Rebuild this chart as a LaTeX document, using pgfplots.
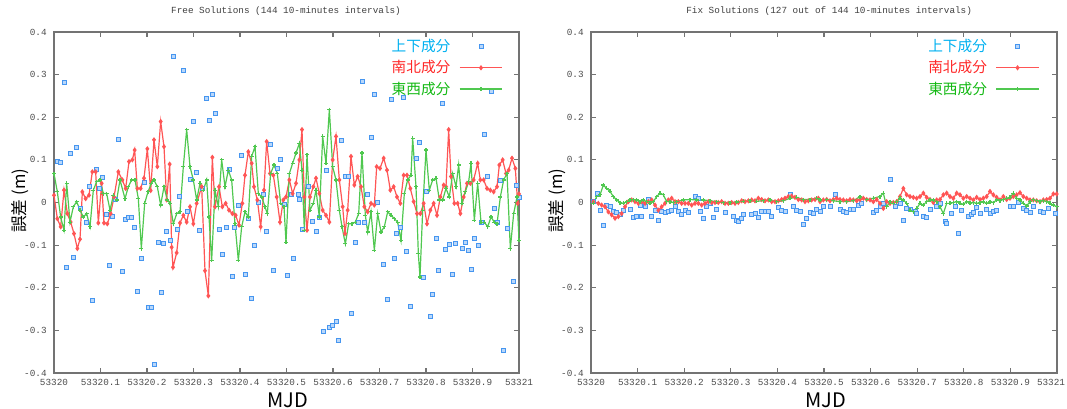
\documentclass[border=0pt]{standalone}
\usepackage{fontspec}
\usepackage{pgfplots}
\pgfplotsset{compat=1.18}
\setmainfont{Liberation Sans}
\newfontfamily\cjk{Noto Sans CJK JP}
\newfontfamily\mono{Liberation Mono}

\definecolor{ublue}{RGB}{0,176,240}
\definecolor{nred}{RGB}{255,40,40}
\definecolor{egreen}{RGB}{20,185,20}
\definecolor{sqblue}{RGB}{70,150,240}
\definecolor{sqfill}{RGB}{185,215,250}
\definecolor{lred}{RGB}{255,85,85}
\definecolor{lgreen}{RGB}{80,200,80}
\definecolor{frame}{RGB}{115,115,115}

% x is read in 1/1395 (left) and 1/1398 (right) of a day from 53320
\pgfplotsset{
  gp/.style={
    scale only axis,
    height=255.75pt,
    ymin=-0.4, ymax=0.4,
    ytick={-0.4,-0.3,-0.2,-0.1,0,0.1,0.2,0.3,0.4},
    yticklabels={-0.4,-0.3,-0.2,-0.1,0,0.1,0.2,0.3,0.4},
    tick align=inside,
    major tick length=3.5pt,
    every tick/.style={draw=frame, line width=0.9pt},
    axis line style={draw=frame, line width=1.3pt},
    ticklabel style={font=\mono\fontsize{7}{8}\selectfont, text=black!70},
    yticklabel style={xshift=-2pt},
    xticklabel style={yshift=-1.5pt},
    title style={font=\mono\fontsize{7}{8}\selectfont, text=black!75, anchor=center},
    xlabel style={at={(axis description cs:0.503,-0.079)}, anchor=center, font=\cjk\fontsize{15}{17}\selectfont},
    ylabel style={at={(axis description cs:-0.073,0.505)}, anchor=center, font=\cjk\fontsize{12.5}{14}\selectfont},
    xlabel={MJD},
    ylabel={誤差 (m)},
    legend style={draw=none, fill=none, inner sep=0pt, anchor=north east,
      font=\cjk\fontsize{11}{13}\selectfont, row sep=2.2pt,
      nodes={inner sep=1.5pt}, column sep=5pt},
    legend plot pos=right,
    legend cell align=right,
    legend image code/.code={\draw[mark repeat=2,mark phase=2,#1] plot coordinates {(0pt,0pt) (16pt,0pt) (32pt,0pt)};},
  },
  upd/.style={only marks, mark=square*, mark size=1.5pt, mark options={draw=sqblue, fill=sqfill, line width=0.7pt}},
  nsd/.style={lred, line width=0.9pt, mark=diamond*, mark size=1.3pt, mark options={fill=lred}},
  ewd/.style={lgreen, line width=0.9pt, mark=+, mark size=1.5pt},
}

\begin{document}
\begin{tikzpicture}
\path[use as bounding box] (0,0) rectangle (800.25pt,306pt);

\begin{axis}[gp,
  at={(40.5pt,26.25pt)}, anchor=south west,
  width=348.75pt,
  xmin=0, xmax=1395,
  xtick={0,139.5,279,418.5,558,697.5,837,976.5,1116,1255.5,1395},
  xticklabels={53320,53320.1,53320.2,53320.3,53320.4,53320.5,53320.6,53320.7,53320.8,53320.9,53321},
  title={Free Solutions (144 10-minutes intervals)},
  title style={at={(axis description cs:0.499,1.038)}},
  legend style={at={(axis description cs:0.966,0.985)}},
]
\addplot[upd] coordinates {
(9,0.096) (18,0.095) (30,0.282) (36,-0.152) (48,0.114) (57,-0.129) (66,0.129) (78,-0.015)
(96,-0.048) (105,0.037) (114,-0.230) (126,0.077) (135,0.032) (144,0.058) (156,-0.029) (165,-0.147)
(174,-0.032) (183,0.006) (192,0.147) (204,-0.162) (213,-0.039) (222,-0.034) (231,-0.034) (240,-0.058)
(249,-0.209) (261,-0.131) (270,0.046) (282,-0.246) (291,-0.246) (300,-0.379) (312,-0.093) (321,-0.211)
(327,-0.096) (336,-0.067) (348,-0.088) (357,0.343) (369,-0.063) (375,0.015) (387,0.310) (399,-0.022)
(408,0.055) (417,0.190) (426,0.070) (435,-0.065) (444,0.032) (456,0.244) (465,0.192) (474,0.254)
(483,0.209) (495,-0.063) (504,-0.121) (516,-0.058) (525,0.077) (534,-0.173) (540,-0.058) (552,-0.008)
(561,0.110) (573,-0.169) (582,-0.037) (591,-0.225) (600,-0.100) (612,0.001) (627,0.018) (636,-0.067)
(648,0.136) (657,-0.159) (669,0.079) (678,0.100) (690,-0.004) (699,-0.171) (711,0.018) (717,-0.131)
(732,0.018) (735,0.008) (744,-0.063) (762,0.037) (774,-0.044) (786,-0.067) (795,-0.034) (807,-0.303)
(816,0.074) (825,-0.294) (834,-0.289) (846,-0.280) (852,-0.324) (861,0.145) (873,0.060) (882,0.060)
(891,-0.261) (903,-0.093) (912,-0.046) (924,0.284) (930,-0.046) (939,0.020) (951,0.152) (960,0.254)
(969,0.000) (987,-0.145) (999,-0.228) (1011,0.242) (1020,-0.131) (1026,-0.072) (1038,-0.058) (1047,0.246)
(1056,-0.114) (1068,-0.244) (1086,0.103) (1095,0.142) (1107,-0.176) (1116,0.025) (1128,-0.268) (1134,-0.216)
(1146,-0.084) (1152,-0.159) (1164,0.232) (1173,-0.110) (1185,-0.098) (1194,-0.169) (1203,-0.096) (1224,-0.107)
(1233,-0.093) (1242,-0.112) (1251,-0.157) (1260,-0.084) (1272,-0.100) (1281,-0.046) (1290,0.159) (1299,0.060)
(1311,0.260) (1320,-0.013) (1329,-0.048) (1338,0.051) (1347,-0.346) (1359,-0.060) (1377,-0.185) (1386,0.041)
(1395,0.011)
};
\addlegendentry{\textcolor{ublue}{上下成分}}
\addplot[nsd] coordinates {
(0,0.017) (10,-0.038) (20,-0.057) (30,0.029) (40,-0.026) (50,-0.046) (60,-0.073) (70,-0.108)
(78,-0.086) (85,0.025) (95,0.009) (105,0.017) (115,0.072) (125,0.072) (133,-0.048) (143,0.045)
(150,-0.048) (160,-0.050) (170,-0.026) (180,0.013) (193,0.072) (205,0.053) (215,0.033) (225,0.096)
(235,0.100) (242,0.123) (250,0.033) (260,0.033) (270,0.057) (280,0.126) (290,0.028) (300,0.147)
(310,0.084) (320,0.190) (330,0.131) (338,0.006) (347,0.090) (353,-0.105) (357,-0.152) (368,-0.118)
(378,-0.048) (388,-0.030) (398,-0.046) (408,-0.010) (418,-0.050) (428,-0.002) (443,0.037) (453,-0.160)
(463,-0.219) (475,0.106) (483,-0.010) (495,0.037) (505,-0.010) (515,-0.002) (525,-0.018) (535,-0.026)
(545,-0.030) (555,-0.053) (565,-0.002) (573,0.064) (583,0.119) (593,0.092) (600,0.037) (610,0.006)
(620,-0.057) (630,0.029) (638,0.143) (648,0.068) (658,0.064) (668,0.013) (678,-0.046) (688,0.006)
(696,0.013) (706,0.053) (716,0.021) (726,0.045) (736,0.100) (744,0.171) (751,0.013) (759,-0.065)
(768,0.013) (778,0.037) (786,0.057) (796,0.021) (806,-0.018) (816,-0.030) (826,-0.046) (836,0.100)
(846,0.155) (856,0.053) (866,-0.010) (873,-0.073) (881,-0.018) (891,0.108) (901,0.041) (911,0.061)
(921,0.037) (931,-0.010) (941,-0.022) (951,-0.002) (961,-0.006) (968,0.084) (978,0.080) (989,0.104)
(999,0.076) (1009,0.029) (1019,0.037) (1029,0.013) (1039,-0.002) (1049,0.064) (1059,0.064) (1069,0.033)
(1079,0.002) (1089,-0.026) (1099,-0.026) (1109,-0.002) (1119,-0.050) (1129,-0.018) (1139,-0.002) (1149,-0.030)
(1159,0.013) (1169,0.041) (1176,0.037) (1184,0.171) (1191,0.061) (1201,-0.002) (1211,-0.002) (1219,-0.026)
(1229,0.013) (1239,0.045) (1249,0.045) (1259,0.053) (1271,0.092) (1279,0.053) (1289,0.053) (1299,0.033)
(1309,0.029) (1319,0.025) (1329,0.037) (1336,0.088) (1346,0.100) (1356,0.068) (1364,0.076) (1374,0.104)
(1384,0.080) (1391,-0.002) (1395,0.020)
};
\addlegendentry{\textcolor{nred}{南北成分}}
\addplot[ewd] coordinates {
(0,0.068) (10,0.025) (20,-0.034) (30,-0.065) (38,0.045) (48,-0.046) (58,-0.010) (68,0.002)
(78,-0.018) (88,-0.034) (98,-0.026) (108,-0.057) (118,0.029) (128,0.049) (138,0.053) (148,0.021)
(158,0.021) (168,-0.018) (178,0.017) (188,0.006) (198,0.053) (213,0.009) (223,0.037) (233,0.053)
(243,0.053) (253,0.009) (262,-0.108) (272,-0.002) (282,0.025) (292,0.045) (300,0.053) (310,0.037)
(320,-0.006) (330,0.037) (340,0.006) (348,-0.002) (358,-0.050) (368,-0.026) (378,-0.022) (388,0.084)
(398,0.171) (408,0.084) (418,0.053) (428,0.006) (438,0.045) (448,0.029) (458,0.053) (465,-0.034)
(473,-0.136) (483,0.029) (493,-0.010) (503,0.100) (513,0.037) (523,0.076) (533,0.053) (543,-0.050)
(553,-0.136) (563,-0.057) (573,-0.022) (583,-0.034) (593,0.108) (603,0.131) (613,0.021) (623,0.013)
(633,-0.010) (640,-0.026) (650,0.068) (660,0.088) (670,0.068) (680,-0.002) (690,-0.010) (696,-0.093)
(706,0.068) (716,0.092) (726,0.116) (736,0.139) (744,0.076) (751,-0.065) (759,0.112) (768,-0.018)
(778,-0.002) (786,0.029) (796,-0.034) (806,0.155) (816,0.092) (826,0.218) (836,0.084) (846,0.053)
(856,-0.018) (864,-0.057) (874,-0.097) (884,-0.050) (894,-0.050) (904,-0.046) (914,-0.026) (924,0.116)
(934,-0.030) (941,-0.069) (951,-0.022) (961,-0.112) (971,-0.026) (981,-0.069) (991,-0.057) (1001,-0.022)
(1011,-0.030) (1021,-0.038) (1031,-0.046) (1041,-0.089) (1051,0.021) (1061,0.053) (1071,0.064) (1076,0.151)
(1086,0.037) (1093,-0.120) (1098,-0.175) (1106,-0.018) (1116,0.123) (1126,0.029) (1136,0.053) (1146,0.057)
(1156,0.006) (1166,0.006) (1176,0.033) (1186,0.013) (1196,0.068) (1206,0.037) (1214,0.088) (1224,-0.002)
(1234,0.025) (1244,0.049) (1251,0.092) (1261,-0.042) (1271,0.045) (1281,-0.046) (1291,-0.046) (1301,-0.057)
(1311,-0.034) (1321,-0.046) (1329,-0.050) (1339,0.013) (1349,0.053) (1359,0.068) (1369,-0.108) (1379,-0.026)
(1389,0.013) (1395,-0.089)
};
\addlegendentry{\textcolor{egreen}{東西成分}}
\end{axis}

\begin{axis}[gp,
  at={(443.25pt,26.25pt)}, anchor=south west,
  width=349.5pt,
  xmin=0, xmax=1398,
  xtick={0,139.8,279.6,419.4,559.2,699,838.8,978.6,1118.4,1258.2,1398},
  xticklabels={53320,53320.1,53320.2,53320.3,53320.4,53320.5,53320.6,53320.7,53320.8,53320.9,\hspace*{-9pt}53321},
  title={Fix Solutions (127 out of 144 10-minutes intervals)},
  title style={at={(axis description cs:0.511,1.038)}},
  legend style={at={(axis description cs:0.963,0.985)}},
]
\addplot[upd] coordinates {
(7,0.002) (19,0.022) (29,-0.018) (37,-0.055) (47,-0.006) (57,-0.010) (67,-0.022) (77,-0.024)
(87,-0.027) (97,-0.018) (117,-0.016) (127,-0.035) (137,-0.033) (147,-0.006) (152,-0.032) (162,-0.010)
(172,0.007) (182,-0.032) (192,-0.018) (202,-0.041) (212,-0.022) (222,-0.024) (232,-0.022) (242,-0.018)
(252,-0.010) (262,-0.022) (272,-0.029) (282,-0.018) (292,-0.024) (312,0.014) (322,0.010) (327,-0.022)
(337,-0.037) (347,-0.010) (357,-0.002) (367,-0.035) (377,-0.016) (402,-0.024) (427,-0.032) (437,-0.041)
(442,-0.045) (452,-0.037) (457,-0.029) (482,-0.029) (492,-0.026) (502,-0.035) (512,-0.022) (522,-0.022)
(532,-0.022) (542,-0.033) (562,-0.011) (572,-0.018) (582,-0.022) (597,0.018) (607,-0.010) (617,-0.018)
(627,-0.022) (637,-0.051) (647,-0.037) (657,-0.024) (667,-0.026) (677,-0.016) (687,-0.022) (697,-0.010)
(717,-0.010) (732,0.018) (747,-0.016) (757,-0.022) (767,-0.024) (777,-0.016) (787,-0.016) (802,-0.006)
(812,-0.002) (847,-0.024) (857,-0.018) (867,-0.010) (877,-0.002) (897,0.055) (912,-0.010) (927,-0.002)
(937,-0.043) (947,-0.014) (957,-0.016) (972,-0.022) (977,-0.026) (997,-0.033) (1007,-0.035) (1017,-0.016)
(1037,-0.010) (1047,-0.002) (1062,-0.045) (1067,-0.049) (1082,-0.026) (1092,-0.010) (1102,-0.073) (1112,-0.019)
(1132,-0.032) (1142,-0.027) (1147,-0.024) (1157,-0.011) (1167,-0.026) (1187,-0.016) (1197,-0.026) (1207,-0.022)
(1217,-0.018) (1257,-0.010) (1267,-0.010) (1282,0.000) (1297,-0.014) (1307,-0.018) (1317,-0.024) (1327,-0.010)
(1347,-0.022) (1357,-0.024) (1372,-0.014) (1392,-0.026)
};
\addlegendentry{\textcolor{ublue}{上下成分}}
\addplot[nsd] coordinates {
(7,0.002) (22,-0.002) (32,-0.006) (42,-0.010) (52,-0.022) (62,-0.029) (72,-0.037) (82,-0.033)
(92,-0.026) (102,-0.010) (112,0.002) (122,0.006) (132,0.002) (142,-0.002) (152,0.002) (162,-0.002)
(172,0.002) (182,0.006) (192,-0.006) (202,-0.018) (212,-0.010) (222,-0.002) (232,0.006) (242,0.010)
(252,0.002) (262,0.002) (272,-0.002) (282,-0.002) (292,-0.002) (302,-0.006) (312,-0.002) (322,-0.002)
(332,-0.006) (342,-0.002) (352,0.002) (362,0.000) (372,0.000) (382,0.000) (392,0.002) (402,-0.002)
(412,-0.002) (422,0.000) (432,-0.002) (442,0.000) (452,0.004) (462,0.002) (472,0.004) (482,0.006)
(492,0.004) (502,0.010) (512,0.007) (522,0.004) (532,0.006) (542,0.002) (552,0.002) (562,0.004)
(572,0.007) (582,0.010) (592,0.014) (602,0.015) (612,0.012) (622,0.007) (632,0.006) (642,0.002)
(652,0.004) (662,0.006) (672,0.007) (682,0.010) (687,0.002) (697,0.006) (707,0.007) (717,0.004)
(727,0.007) (737,0.010) (747,0.007) (757,0.006) (767,0.004) (777,0.007) (787,0.006) (797,0.004)
(807,0.007) (817,0.010) (827,0.007) (837,0.006) (847,0.002) (857,0.007) (867,-0.002) (877,-0.014)
(887,0.002) (897,-0.002) (907,0.000) (917,0.002) (927,0.014) (937,0.033) (947,0.018) (957,0.014)
(967,0.012) (977,0.010) (987,0.014) (997,0.022) (1007,0.012) (1017,0.007) (1027,0.000) (1037,0.006)
(1047,0.007) (1057,0.018) (1067,0.022) (1077,0.014) (1087,0.010) (1097,0.022) (1107,0.018) (1117,0.010)
(1127,0.014) (1137,0.010) (1147,0.006) (1157,0.012) (1167,0.007) (1177,0.010) (1187,0.014) (1197,0.026)
(1207,0.018) (1217,0.012) (1227,0.006) (1237,0.014) (1247,0.007) (1257,0.010) (1267,0.014) (1277,0.018)
(1287,0.023) (1297,0.014) (1307,0.010) (1317,0.006) (1327,0.006) (1337,0.004) (1347,0.002) (1357,0.006)
(1367,0.007) (1377,0.010) (1387,0.020) (1397,0.020)
};
\addlegendentry{\textcolor{nred}{南北成分}}
\addplot[ewd] coordinates {
(7,-0.002) (17,0.014) (27,0.018) (37,0.041) (47,0.033) (57,0.026) (67,0.014) (77,0.006)
(87,0.000) (97,-0.002) (107,0.002) (117,0.006) (127,0.007) (137,0.006) (147,0.002) (157,0.006)
(167,0.002) (177,-0.002) (187,0.002) (197,0.014) (207,0.022) (217,0.018) (227,0.002) (237,0.002)
(247,0.000) (257,0.002) (277,0.006) (297,0.007) (317,0.006) (337,0.006) (357,0.004) (377,0.002)
(397,0.000) (417,0.000) (437,0.001) (457,0.003) (477,0.004) (497,0.003) (517,0.004) (537,0.006)
(557,0.002) (577,0.004) (597,0.010) (617,0.012) (637,0.007) (657,0.007) (677,0.010) (687,0.006)
(707,0.007) (727,0.004) (747,0.002) (767,0.002) (787,0.004) (807,0.014) (827,0.007) (847,0.010)
(867,0.014) (877,0.022) (887,-0.010) (897,0.002) (907,-0.002) (917,0.002) (927,0.010) (937,0.006)
(947,-0.002) (957,-0.018) (967,-0.022) (977,-0.014) (987,-0.002) (997,-0.006) (1007,0.002) (1017,0.007)
(1027,0.006) (1037,0.002) (1047,-0.010) (1057,-0.026) (1067,-0.002) (1077,-0.002) (1087,0.000) (1097,0.002)
(1107,-0.002) (1117,-0.004) (1127,0.002) (1137,-0.002) (1147,0.000) (1157,-0.002) (1167,0.000) (1177,0.001)
(1187,-0.002) (1197,0.002) (1207,0.000) (1217,0.006) (1227,0.004) (1237,0.007) (1247,0.010) (1257,0.012)
(1267,0.022) (1277,0.010) (1287,0.006) (1297,-0.002) (1307,-0.008) (1317,0.002) (1327,0.007) (1337,0.004)
(1347,0.002) (1357,0.004) (1367,0.002) (1377,-0.002) (1387,-0.006) (1397,-0.010)
};
\addlegendentry{\textcolor{egreen}{東西成分}}
\end{axis}
\end{tikzpicture}
\end{document}
